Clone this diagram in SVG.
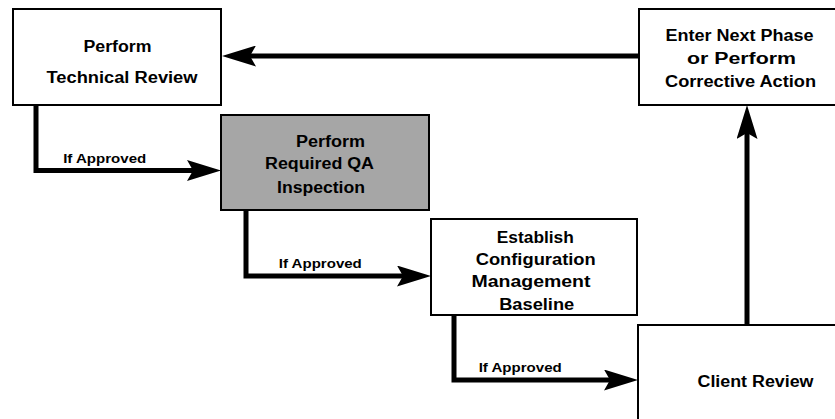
<svg xmlns="http://www.w3.org/2000/svg" width="835" height="419" viewBox="0 0 835 419">
<style>
.box{fill:#fff;stroke:#000;stroke-width:2}
.gray{fill:#a6a6a6;stroke:#000;stroke-width:2}
.t{font-family:"Liberation Sans",Arial,sans-serif;font-weight:bold;font-size:16px;fill:#000;text-anchor:middle}
.lbl{font-family:"Liberation Sans",Arial,sans-serif;font-weight:bold;font-size:12.5px;fill:#000;text-anchor:middle}
.c{fill:none;stroke:#000;stroke-width:5;stroke-linejoin:miter;marker-end:url(#ah)}
</style>
<defs>
<marker id="ah" markerUnits="userSpaceOnUse" viewBox="0 0 34 21" refX="6" refY="10.5" markerWidth="34" markerHeight="21" orient="auto">
<path d="M0,0 L34,10.5 L0,21 L6,10.5 Z" fill="#000"/>
</marker>
</defs>
<g id="connectors">
<path class="c" d="M639,56 H250"/>
<path class="c" d="M36,104 V170.5 H193"/>
<path class="c" d="M246,210 V276 H403"/>
<path class="c" d="M454,315 V380 H610"/>
<path class="c" d="M747,325 V133"/>
<text class="lbl" x="104.7" y="163" textLength="83" lengthAdjust="spacingAndGlyphs">If Approved</text>
<text class="lbl" x="320.3" y="268.3" textLength="83" lengthAdjust="spacingAndGlyphs">If Approved</text>
<text class="lbl" x="520.2" y="372.3" textLength="83" lengthAdjust="spacingAndGlyphs">If Approved</text>
</g>
<g id="technical-review">
<rect class="box" x="13" y="9" width="208" height="96"/>
<text class="t" x="117.5" y="52" textLength="68" lengthAdjust="spacingAndGlyphs">Perform</text>
<text class="t" x="122" y="83" textLength="151" lengthAdjust="spacingAndGlyphs">Technical Review</text>
</g>
<g id="qa-inspection">
<rect class="gray" x="221" y="115" width="208" height="95"/>
<text class="t" x="330.5" y="147" textLength="69" lengthAdjust="spacingAndGlyphs">Perform</text>
<text class="t" x="319.5" y="169" textLength="109" lengthAdjust="spacingAndGlyphs">Required QA</text>
<text class="t" x="321" y="192.5" textLength="88" lengthAdjust="spacingAndGlyphs">Inspection</text>
</g>
<g id="next-phase">
<rect class="box" x="639" y="9" width="200" height="96"/>
<text class="t" x="739.5" y="40.5" textLength="148" lengthAdjust="spacingAndGlyphs">Enter Next Phase</text>
<text class="t" x="741.5" y="64" textLength="109" lengthAdjust="spacingAndGlyphs">or Perform</text>
<text class="t" x="740.5" y="87" textLength="151" lengthAdjust="spacingAndGlyphs">Corrective Action</text>
</g>
<g id="cm-baseline">
<rect class="box" x="431" y="219" width="206" height="96"/>
<text class="t" x="535.3" y="242.5" textLength="77" lengthAdjust="spacingAndGlyphs">Establish</text>
<text class="t" x="535.7" y="265" textLength="120" lengthAdjust="spacingAndGlyphs">Configuration</text>
<text class="t" x="531" y="287" textLength="119" lengthAdjust="spacingAndGlyphs">Management</text>
<text class="t" x="536.7" y="310" textLength="75" lengthAdjust="spacingAndGlyphs">Baseline</text>
</g>
<g id="client-review">
<rect class="box" x="638" y="325" width="200" height="100"/>
<text class="t" x="755.5" y="387" textLength="116" lengthAdjust="spacingAndGlyphs">Client Review</text>
</g>
</svg>
